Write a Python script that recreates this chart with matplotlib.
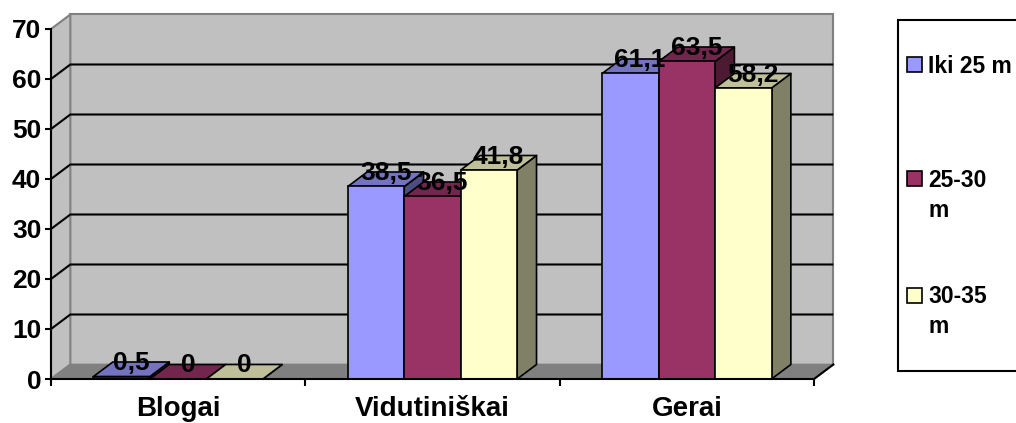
import matplotlib
matplotlib.use("Agg")
import matplotlib.pyplot as plt
from matplotlib.patches import Polygon, Rectangle
import numpy as np

plt.rcParams['font.family'] = ['Liberation Sans', 'DejaVu Sans']
plt.rcParams['font.weight'] = 'bold'

categories = ["Blogai", "Vidutiniškai", "Gerai"]
series_names = ["Iki 25 m", "25-30 m", "30-35 m"]
legend_labels = ["Iki 25 m", "25-30\nm", "30-35\nm"]
iki25 = [0.5, 38.5, 61.1]
m25_30 = [0.0, 36.5, 63.5]
m30_35 = [0.0, 41.8, 58.2]
value_labels = [["0,5", "38,5", "61,1"], ["0", "36,5", "63,5"], ["0", "41,8", "58,2"]]
yticks = [0, 10, 20, 30, 40, 50, 60, 70]

series = [iki25, m25_30, m30_35]
front_colors = ["#9999FF", "#993366", "#FFFFCC"]


def shade(hexcol, f):
    c = np.array(matplotlib.colors.to_rgb(hexcol))
    return tuple(c * f)


W, H = 1016, 423
fig = plt.figure(figsize=(W / 100, H / 100), dpi=100)
x0p, x1p, y0p, y1p = 51, 814, 379, 29
ax = fig.add_axes([x0p / W, 1 - y0p / H, (x1p - x0p) / W, (y0p - y1p) / H])
ax.set_xlim(0, 3)
ax.set_ylim(0, 70)
ax.patch.set_visible(False)

dx, dy = 0.076, 2.9
ymax = 70
wall = "#C0C0C0"
edge_gray = "#808080"

# back wall
ax.add_patch(Polygon([(dx, dy), (3 + dx, dy), (3 + dx, ymax + dy), (dx, ymax + dy)],
                     closed=True, facecolor=wall, edgecolor=edge_gray, lw=1.5,
                     clip_on=False, zorder=1))
# left wall
ax.add_patch(Polygon([(0, 0), (dx, dy), (dx, ymax + dy), (0, ymax)],
                     closed=True, facecolor=wall, edgecolor=edge_gray, lw=1.5,
                     clip_on=False, zorder=1))
# gridlines
for v in yticks[1:-1]:
    ax.plot([0, dx, 3 + dx], [v, v + dy, v + dy], color="black", lw=1.5,
            clip_on=False, zorder=2, solid_capstyle='butt')
# floor
ax.add_patch(Polygon([(0, 0), (3, 0), (3 + dx, dy), (dx, dy)],
                     closed=True, facecolor=edge_gray, edgecolor=edge_gray, lw=1.2,
                     clip_on=False, zorder=2))
ax.plot([3, 3 + dx], [0, dy], color="black", lw=1.5, clip_on=False, zorder=3)

# bars
bw = 0.222
offsets = [-bw, 0.0, bw]
for ci in range(len(categories)):
    for si, vals in enumerate(series):
        v = vals[ci]
        col = front_colors[si]
        xc = ci + 0.5 + offsets[si]
        xl, xr = xc - bw / 2, xc + bw / 2
        z = 4 + ci * 3 + si
        # side
        ax.add_patch(Polygon([(xr, 0), (xr + dx, dy), (xr + dx, v + dy), (xr, v)],
                             closed=True, facecolor=shade(col, 0.5), edgecolor="black",
                             lw=1.2, clip_on=False, zorder=z, joinstyle='round'))
        # top
        ax.add_patch(Polygon([(xl, v), (xr, v), (xr + dx, v + dy), (xl + dx, v + dy)],
                             closed=True, facecolor=shade(col, 0.75), edgecolor="black",
                             lw=1.2, clip_on=False, zorder=z, joinstyle='round'))
        # front
        ax.bar(xc, v, width=bw, color=col, edgecolor="black", linewidth=1.2,
               zorder=z, clip_on=False)

# value labels
for ci in range(len(categories)):
    for si, vals in enumerate(series):
        v = vals[ci]
        xc = ci + 0.5 + offsets[si] + dx / 2
        ax.text(xc, v + 2.7, value_labels[si][ci], ha="center", va="center",
                fontsize=19, fontweight="bold", zorder=30, clip_on=False)

# axes styling
for s in ["top", "right"]:
    ax.spines[s].set_visible(False)
for s in ["left", "bottom"]:
    ax.spines[s].set_linewidth(1.5)
    ax.spines[s].set_zorder(25)
ax.set_yticks(yticks)
ax.set_yticklabels([str(t) for t in yticks], fontsize=19, fontweight="bold")
ax.tick_params(axis="y", direction="out", length=4, width=1.5, pad=3)
ax.set_xticks([0, 1, 2, 3])
ax.set_xticklabels([])
ax.tick_params(axis="x", which="major", direction="out", length=5, width=1.5)
ax.set_xticks([0.5, 1.5, 2.5], minor=True)
ax.set_xticklabels(categories, minor=True, fontsize=20, fontweight="bold")
ax.tick_params(axis="x", which="minor", length=0, pad=12)

# legend (manual, Excel-style)
lx, ly0, ly1 = 898, 20, 371
fig.add_artist(Rectangle((lx / W, 1 - ly1 / H), 300 / W, (ly1 - ly0) / H,
                         transform=fig.transFigure, facecolor="white",
                         edgecolor="black", lw=1.5))
centers = [65, 179, 295]
for si, lab in enumerate(legend_labels):
    cy = centers[si]
    fig.add_artist(Rectangle((907 / W, 1 - (cy + 7.5) / H), 15 / W, 15 / H,
                             transform=fig.transFigure, facecolor=front_colors[si],
                             edgecolor="black", lw=1.2))
    for li, line in enumerate(lab.split("\n")):
        fig.text(928 / W, 1 - (cy + 8 + li * 30) / H, line, ha="left", va="baseline",
                 fontsize=16.5, fontweight="bold")

fig.savefig("out.png", dpi=100)
